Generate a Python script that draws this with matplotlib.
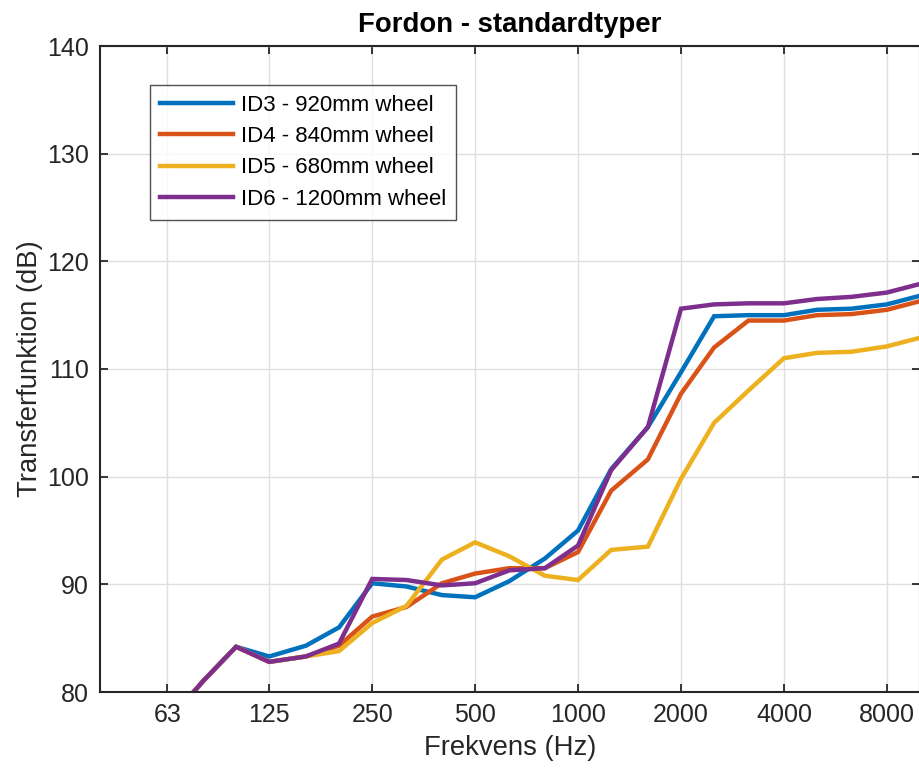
import matplotlib
matplotlib.use("Agg")
import matplotlib.pyplot as plt

plt.rcParams['font.family'] = ['Liberation Sans', 'DejaVu Sans']

freqs = [63, 80, 100, 125, 160, 200, 250, 315, 400, 500, 630, 800, 1000,
         1250, 1600, 2000, 2500, 3150, 4000, 5000, 6300, 8000, 10000]

id3 = [77.2, 81.0, 84.2, 83.3, 84.3, 86.0, 90.1, 89.8, 89.0, 88.8, 90.3, 92.4, 95.0,
       100.7, 104.6, 109.7, 114.9, 115.0, 115.0, 115.5, 115.6, 116.0, 116.8]
id4 = [77.2, 81.0, 84.2, 82.8, 83.3, 84.3, 87.0, 87.9, 90.1, 91.0, 91.5, 91.5, 93.0,
       98.7, 101.6, 107.7, 112.0, 114.5, 114.5, 115.0, 115.1, 115.5, 116.3]
id5 = [77.2, 81.0, 84.2, 82.8, 83.3, 83.8, 86.4, 88.0, 92.3, 93.9, 92.6, 90.8, 90.4,
       93.2, 93.5, 99.8, 105.0, 108.0, 111.0, 111.5, 111.6, 112.1, 112.9]
id6 = [77.2, 81.0, 84.2, 82.8, 83.3, 84.5, 90.5, 90.4, 89.9, 90.1, 91.3, 91.5, 93.6,
       100.6, 104.6, 115.6, 116.0, 116.1, 116.1, 116.5, 116.7, 117.1, 117.9]

labels = ["ID3 - 920mm wheel", "ID4 - 840mm wheel", "ID5 - 680mm wheel", "ID6 - 1200mm wheel"]
colors = ["#0072BD", "#D95319", "#EDB120", "#7E2F8E"]

xticks = [63, 125, 250, 500, 1000, 2000, 4000, 8000]
xticklabels = ["63", "125", "250", "500", "1000", "2000", "4000", "8000"]
yticks = [80, 90, 100, 110, 120, 130, 140]

fig = plt.figure(figsize=(9.2, 7.69), dpi=100)
ax = fig.add_axes([100/920, 1-692/769, 820/920, (692-46)/769])

for ys, lab, c in zip([id3, id4, id5, id6], labels, colors):
    ax.plot(freqs, ys, color=c, lw=3.2, label=lab, solid_joinstyle='miter')

ax.set_xscale('log')
ax.set_xlim(40, 10000)
ax.set_ylim(80, 140)
ax.set_xticks(xticks)
ax.set_xticklabels(xticklabels)
ax.minorticks_off()
ax.set_yticks(yticks)
ax.grid(True, color='#DFDFDF', lw=1.0)
ax.set_axisbelow(True)
ax.tick_params(direction='in', length=6, width=1.3, colors='#262626', labelsize=18,
               top=True, right=True, pad=8)
for s in ax.spines.values():
    s.set_color('#262626')
    s.set_linewidth(1.5)

ax.set_title("Fordon - standardtyper", fontsize=19.8, fontweight='bold', pad=10)
ax.set_xlabel("Frekvens (Hz)", fontsize=19.8, color='#262626', labelpad=6)
ax.set_ylabel("Transferfunktion (dB)", fontsize=19.8, color='#262626', labelpad=3)

leg = ax.legend(loc='upper left', bbox_to_anchor=(50/820, (692-85)/646), fontsize=16,
                frameon=True, fancybox=False, edgecolor='#262626', handlelength=3.3,
                handletextpad=0.35, labelspacing=0.46, borderpad=0.45, borderaxespad=0)
leg.get_frame().set_linewidth(1.0)

fig.savefig("out.png", dpi=100)
